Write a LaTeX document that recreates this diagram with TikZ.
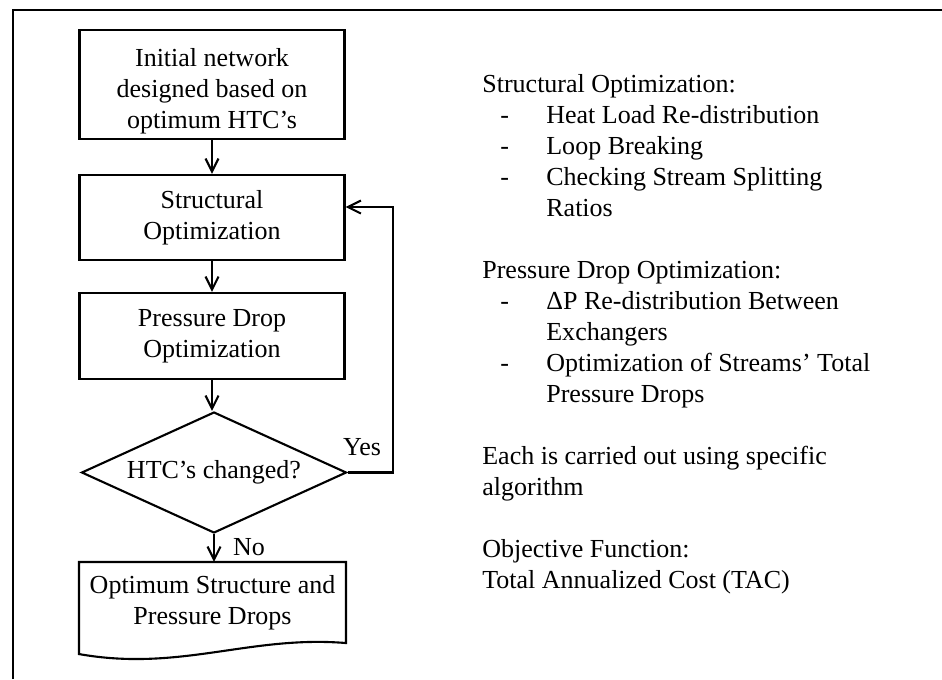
\documentclass[tikz,border=0pt]{standalone}
\usepackage{fontspec}
\setmainfont{Liberation Serif}
\usetikzlibrary{arrows.meta,positioning,shapes.geometric,calc}

\tikzset{
  procbox/.style={draw,line width=1.2pt,minimum width=5.3cm,align=center,inner sep=2pt},
  decbox/.style={diamond,draw,line width=1.2pt,minimum width=5.3cm,minimum height=2.42cm,aspect=2.2,inner sep=0pt},
  flow/.style={line width=1.2pt,-{Straight Barb[length=2.6mm,width=2.6mm]}},
  notes/.style={anchor=base west,inner sep=0pt},
}

\begin{document}
\begin{tikzpicture}[x=0.02cm,y=-0.02cm,every node/.style={font=\fontsize{14.8pt}{17.6pt}\selectfont}]
    \useasboundingbox (0,0) rectangle (942,679);
    % frame (top and left edges only)
    \draw[line width=1.2pt] (13,679) -- (13,10) -- (942,10);

    % flowchart
    \node[procbox,minimum height=2.18cm] (init) at (212,84.5) {\rule{0pt}{0.62cm}Initial network\\designed based on\\optimum HTC's};
    \node[procbox,minimum height=1.7cm] (struct) at (212,217.5) {Structural\\Optimization};
    \node[procbox,minimum height=1.72cm] (press) at (212,336) {Pressure Drop\\Optimization};
    \node[decbox] (dec) at (214,472.5) {HTC's changed?};
    \node[procbox,draw=none,minimum height=1.58cm] (final) at (212.5,602.5) {Optimum Structure and\\Pressure Drops};
    \draw[line width=1.2pt] (final.north west) -- (final.north east) -- (final.south east)
        .. controls (250,635) and (180,672) .. ($(final.south west)+(0,11)$) -- cycle;

    \draw[flow] (init) -- (struct);
    \draw[flow] (struct) -- (press);
    \draw[flow] (press) -- (press.south |- dec.north);
    \draw[flow] (dec.south) -- (dec.south |- final.north);
    \coordinate (back) at (393,207);
    \draw[flow] (dec.east) -| (back) -- (back -| struct.east);
    \node (yes) at (362,447) {Yes};
    \node (no) at (249,547) {No};

    % notes on the right
    \foreach \y/\txt [count=\i] in {92/Structural Optimization:,278/Pressure Drop Optimization:,
        464/Each is carried out using specific,495/algorithm,557/Objective Function:,588/Total Annualized Cost (TAC)}
        \node[notes] (head\i) at (482,\y) {\txt};
    \foreach \y/\txt [count=\i] in {123/Heat Load Re-distribution,154/Loop Breaking,185/Checking Stream Splitting,
        216/Ratios,309/ΔP Re-distribution Between,340/Exchangers,371/Optimization of Streams' Total,402/Pressure Drops}
        \node[notes] (item\i) at (546,\y) {\txt};
    \foreach \y [count=\i] in {123,154,185,309,371}
        \node[notes] (dash\i) at (500,\y) {-};
\end{tikzpicture}
\end{document}
